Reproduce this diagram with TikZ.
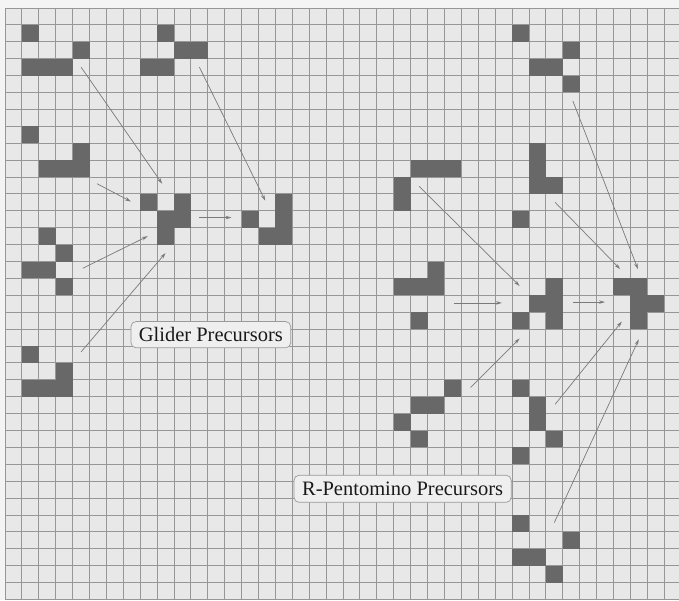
\documentclass[tikz,border=0pt]{standalone}
\usepackage{fontspec}
\setmainfont{Liberation Serif}
\usetikzlibrary{arrows.meta}
\definecolor{paper}{HTML}{F4F4F4}
\definecolor{sheet}{HTML}{E8E8E8}
\definecolor{gline}{HTML}{979797}
\definecolor{cellc}{HTML}{686868}
\definecolor{arrc}{HTML}{7A7A7A}
\definecolor{boxfill}{HTML}{EFEFEF}
\definecolor{boxline}{HTML}{9A9A9A}
\begin{document}
\begin{tikzpicture}[x=16.9pt,y=-16.9pt,
  gridline/.style={draw=gline,line width=0.85pt},
  live/.style={fill=cellc},
  arr/.style={draw=arrc,line width=0.7pt,-{Stealth[length=6pt,width=3.5pt]}},
  caption/.style={draw=boxline,fill=boxfill,rounded corners=5pt,line width=0.7pt,
    font=\fontsize{20.5}{22}\selectfont,inner sep=0pt,text=black!90}]
% canvas and margins
\useasboundingbox (-0.296,-0.473) rectangle (39.88,35.03);
\fill[paper] (-0.296,-0.473) rectangle (39.88,35.03);
\fill[sheet] (0,0) rectangle (39.88,35.03);
% grid
\foreach \i in {0,...,39} \draw[gridline] (\i,0) -- (\i,35.03);
\foreach \j in {0,...,35} \draw[gridline] (0,\j) -- (39.88,\j);
% live cells
\foreach \c/\r in {
  1/1,4/2,1/3,2/3,3/3,
  9/1,10/2,11/2,8/3,9/3,
  1/7,4/8,2/9,3/9,4/9,
  8/11,10/11,9/12,10/12,9/13,
  16/11,14/12,16/12,15/13,16/13,
  2/13,3/14,1/15,2/15,3/16,
  1/20,3/21,1/22,2/22,3/22,
  30/1,33/2,31/3,32/3,33/4,
  31/8,31/9,31/10,32/10,30/12,
  24/9,25/9,26/9,23/10,23/11,
  25/15,23/16,24/16,25/16,24/18,
  32/16,31/17,32/17,30/18,32/18,
  36/16,37/16,37/17,38/17,37/18,
  26/22,24/23,25/23,23/24,24/25,
  30/22,31/23,31/24,32/25,30/26,
  30/30,33/31,30/32,31/32,32/33}
  \fill[live] (\c,\r) rectangle ++(1,1);
% arrow end points
\coordinate (a1s) at (4.5,3.5);    \coordinate (a1e) at (9.3,10.4);
\coordinate (a2s) at (11.5,3.5);   \coordinate (a2e) at (15.4,11.4);
\coordinate (a3s) at (5.45,10.4);  \coordinate (a3e) at (7.45,11.45);
\coordinate (a4s) at (4.6,15.4);   \coordinate (a4e) at (8.45,13.5);
\coordinate (a5s) at (4.5,20.35);  \coordinate (a5e) at (9.5,14.5);
\coordinate (a6s) at (11.5,12.4);  \coordinate (a6e) at (13.4,12.4);
\coordinate (a7s) at (33.6,5.5);   \coordinate (a7e) at (37.45,15.45);
\coordinate (a8s) at (32.55,11.5); \coordinate (a8e) at (36.4,15.45);
\coordinate (a9s) at (24.5,10.55); \coordinate (a9e) at (30.45,16.45);
\coordinate (a10s) at (26.55,17.45); \coordinate (a10e) at (29.4,17.45);
\coordinate (a11s) at (33.6,17.4);   \coordinate (a11e) at (35.5,17.4);
\coordinate (a12s) at (27.55,22.45); \coordinate (a12e) at (30.45,19.55);
\coordinate (a13s) at (32.55,23.45); \coordinate (a13e) at (36.5,18.55);
\coordinate (a14s) at (32.5,30.45);  \coordinate (a14e) at (37.5,19.6);
\foreach \k in {1,...,14} \draw[arr] (a\k s) -- (a\k e);
% labels
\node[caption,minimum width=9.45*16.9pt,minimum height=1.55*16.9pt] (glider) at (12.18,19.33) {Glider Precursors};
\node[caption,minimum width=12.85*16.9pt,minimum height=1.6*16.9pt] (rpent) at (23.525,28.45) {R-Pentomino Precursors};
\end{tikzpicture}
\end{document}
